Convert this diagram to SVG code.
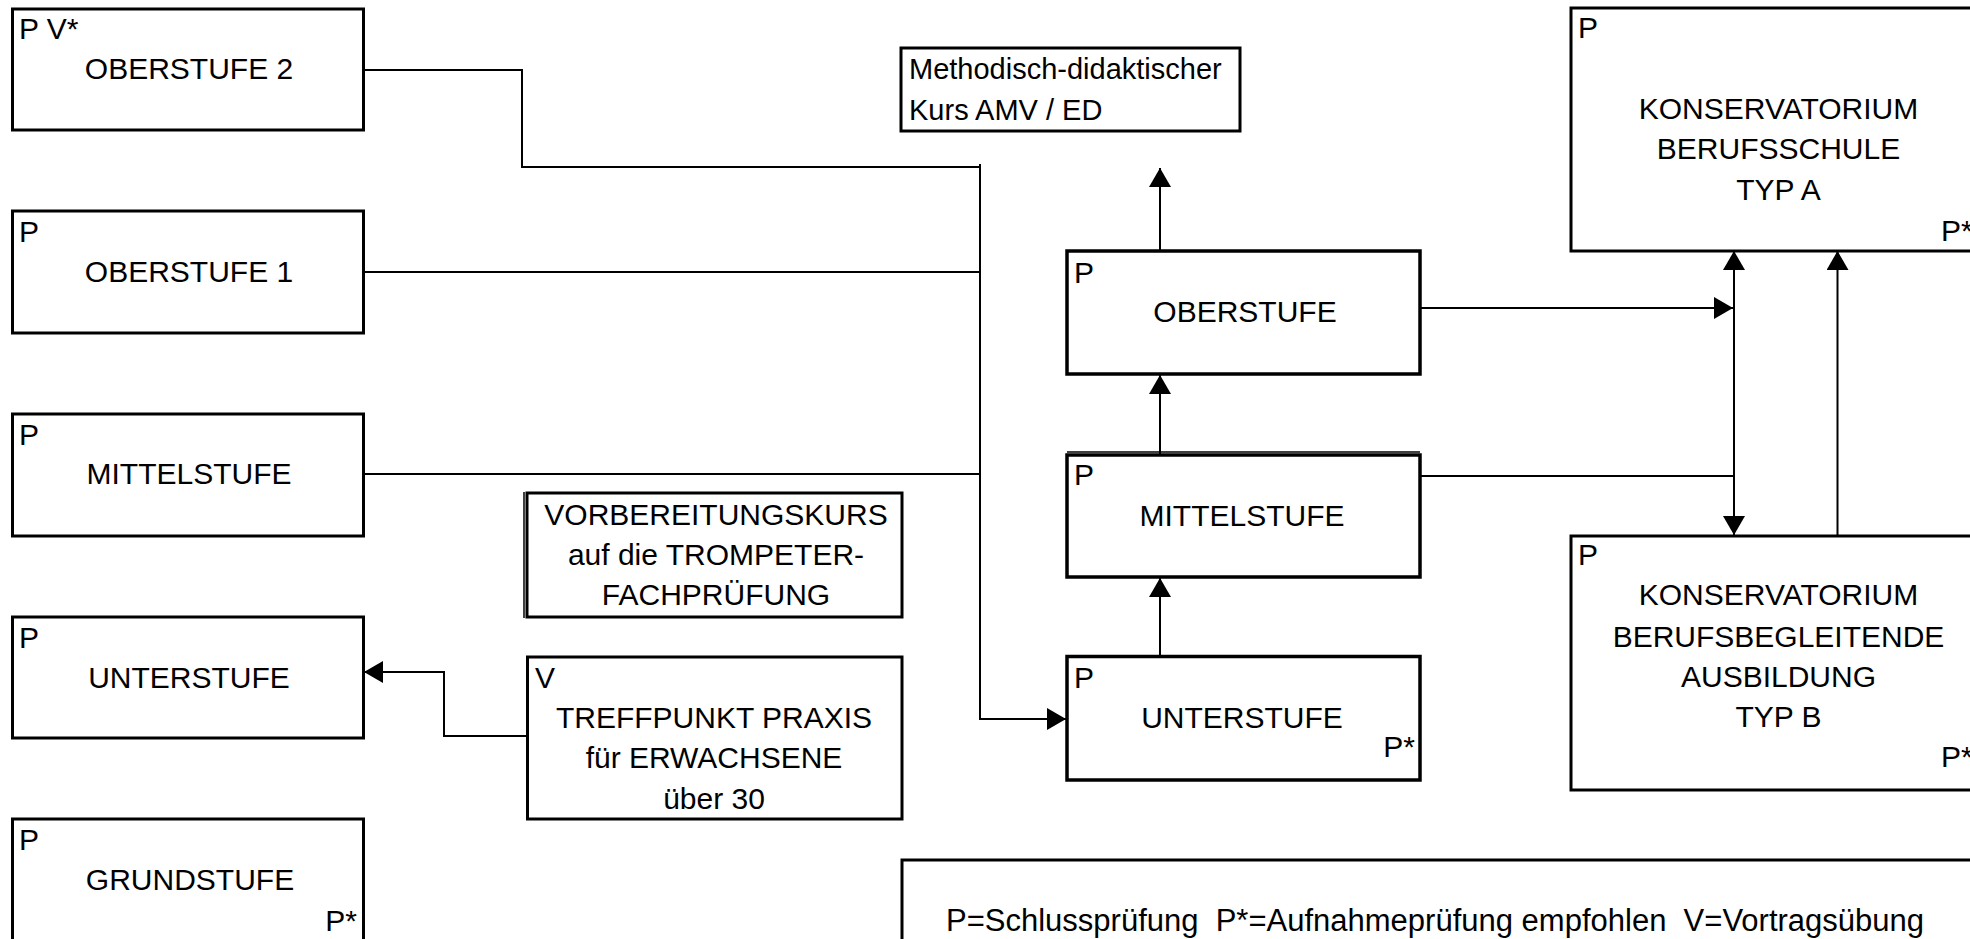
<svg xmlns="http://www.w3.org/2000/svg" width="1970" height="939" viewBox="0 0 1970 939">
<style>
  .box{fill:#fff;stroke:#000;stroke-width:3}
  .thin{fill:none;stroke:#000;stroke-width:1.5}
  .t{font-family:"Liberation Sans",Arial,sans-serif;fill:#000}
  .c{font-size:29px}
  .n{font-size:30px}
  .mid{text-anchor:middle}
  .end{text-anchor:end}
  .con{fill:none;stroke:#000;stroke-width:2}
</style>
<defs>
  <marker id="arr" viewBox="0 0 19 22" refX="19" refY="11" markerWidth="19" markerHeight="22" markerUnits="userSpaceOnUse" orient="auto-start-reverse">
    <path d="M0,0 L19,11 L0,22 z" fill="#000"/>
  </marker>
</defs>
<rect width="1970" height="939" fill="#fff"/>

<g id="connectors">
  <path class="con" d="M364,70 H522 V167 H980"/>
  <path class="con" d="M980,164 V719 H1066" marker-end="url(#arr)"/>
  <path class="con" d="M364,272 H981"/>
  <path class="con" d="M364,474 H981"/>
  <path class="con" d="M527,736 H444 V672 H364" marker-end="url(#arr)"/>
  <path class="con" d="M1160,251 V168" marker-end="url(#arr)"/>
  <path class="con" d="M1160,455 V375" marker-end="url(#arr)"/>
  <path class="con" d="M1160,656 V578" marker-end="url(#arr)"/>
  <path class="con" d="M1420,308 H1733" marker-end="url(#arr)"/>
  <path class="con" d="M1734,251 V535" marker-start="url(#arr)" marker-end="url(#arr)"/>
  <path class="con" d="M1420,476 H1734"/>
  <path class="con" d="M1837.5,536 V251" marker-end="url(#arr)"/>
</g>

<g id="oberstufe2">
  <rect class="box" x="12.5" y="9" width="351" height="121"/>
  <text class="t n" x="19" y="39">P V*</text>
  <text class="t n mid" x="189" y="79">OBERSTUFE 2</text>
</g>
<g id="oberstufe1">
  <rect class="box" x="12.5" y="211" width="351" height="122"/>
  <text class="t n" x="19" y="242">P</text>
  <text class="t n mid" x="189" y="282">OBERSTUFE 1</text>
</g>
<g id="mittelstufe-l">
  <rect class="box" x="12.5" y="414" width="351" height="122"/>
  <text class="t n" x="19" y="445">P</text>
  <text class="t n mid" x="189" y="484">MITTELSTUFE</text>
</g>
<g id="unterstufe-l">
  <rect class="box" x="12.5" y="617" width="351" height="121"/>
  <text class="t n" x="19" y="648">P</text>
  <text class="t n mid" x="189" y="688">UNTERSTUFE</text>
</g>
<g id="grundstufe">
  <rect class="box" x="12.5" y="819" width="351" height="123"/>
  <text class="t n" x="19" y="850">P</text>
  <text class="t n mid" x="190" y="890">GRUNDSTUFE</text>
  <text class="t n end" x="357" y="931">P*</text>
</g>

<g id="methodisch">
  <rect class="box" x="901" y="48" width="339" height="83"/>
  <text class="t c" x="909" y="79">Methodisch-didaktischer</text>
  <text class="t c" x="909" y="120">Kurs AMV / ED</text>
</g>

<g id="vorbereitung">
  <rect class="box" x="527" y="493" width="375" height="124"/>
  <line class="thin" x1="524" y1="492" x2="524" y2="618"/>
  <text class="t n mid" x="716" y="525">VORBEREITUNGSKURS</text>
  <text class="t n mid" x="716" y="565">auf die TROMPETER-</text>
  <text class="t n mid" x="716" y="605">FACHPRÜFUNG</text>
</g>

<g id="treffpunkt">
  <rect class="box" x="527.5" y="657" width="374.5" height="162"/>
  <text class="t n" x="535" y="688">V</text>
  <text class="t n mid" x="714" y="728">TREFFPUNKT PRAXIS</text>
  <text class="t n mid" x="714" y="768">für ERWACHSENE</text>
  <text class="t n mid" x="714" y="809">über 30</text>
</g>

<g id="oberstufe-c">
  <rect class="box" x="1067" y="251" width="353" height="123" style="stroke-width:3.5"/>
  <text class="t n" x="1074" y="283">P</text>
  <text class="t n mid" x="1245" y="322">OBERSTUFE</text>
</g>
<g id="mittelstufe-c">
  <line class="thin" x1="1067" y1="452" x2="1420" y2="452"/>
  <rect class="box" x="1067" y="455" width="353" height="122" style="stroke-width:3.5"/>
  <text class="t n" x="1074" y="485">P</text>
  <text class="t n mid" x="1242" y="526">MITTELSTUFE</text>
</g>
<g id="unterstufe-c">
  <rect class="box" x="1067" y="656.5" width="353" height="123.5" style="stroke-width:3.5"/>
  <text class="t n" x="1074" y="688">P</text>
  <text class="t n mid" x="1242" y="728">UNTERSTUFE</text>
  <text class="t n end" x="1415" y="757">P*</text>
</g>

<g id="typ-a">
  <rect class="box" x="1571" y="8" width="416" height="243"/>
  <text class="t n" x="1578" y="38">P</text>
  <text class="t n mid" x="1778.5" y="119">KONSERVATORIUM</text>
  <text class="t n mid" x="1778.5" y="159">BERUFSSCHULE</text>
  <text class="t n mid" x="1778.5" y="200">TYP A</text>
  <text class="t n" x="1941" y="241">P*</text>
</g>
<g id="typ-b">
  <rect class="box" x="1571" y="536" width="416" height="254"/>
  <text class="t n" x="1578" y="565">P</text>
  <text class="t n mid" x="1778.5" y="605">KONSERVATORIUM</text>
  <text class="t n mid" x="1778.5" y="647">BERUFSBEGLEITENDE</text>
  <text class="t n mid" x="1778.5" y="687">AUSBILDUNG</text>
  <text class="t n mid" x="1778.5" y="727">TYP B</text>
  <text class="t n" x="1941" y="767">P*</text>
</g>

<g id="legend">
  <rect class="box" x="902" y="860" width="1100" height="120"/>
  <text class="t" style="font-size:31px" x="946" y="931" xml:space="preserve">P=Schlussprüfung  P*=Aufnahmeprüfung empfohlen  V=Vortragsübung</text>
</g>
</svg>
